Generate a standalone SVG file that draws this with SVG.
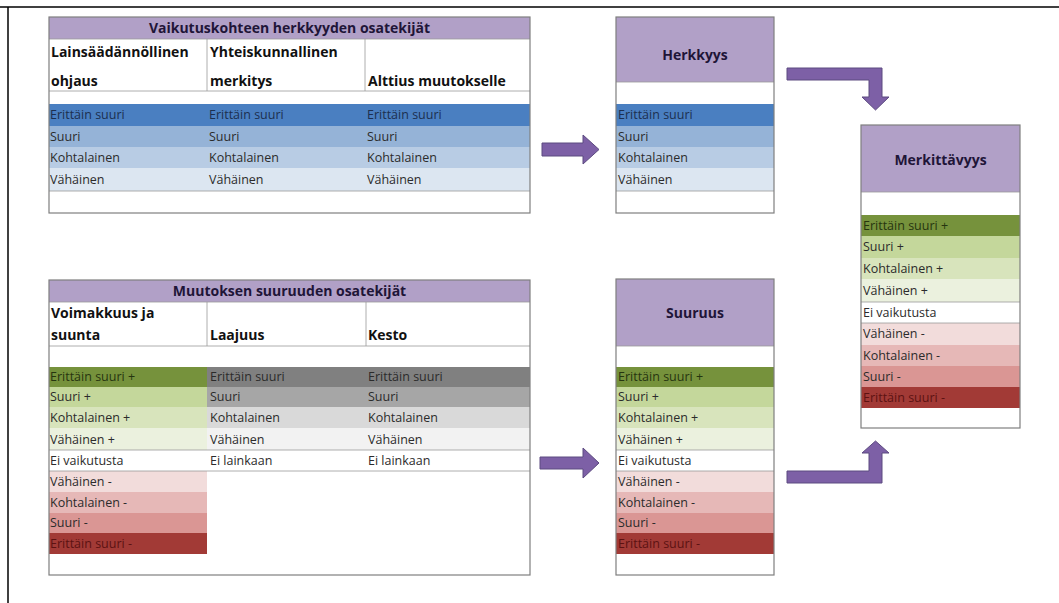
<svg xmlns="http://www.w3.org/2000/svg" width="1059" height="603" viewBox="0 0 1059 603">
<style>
text{font-family:"Open Sans","Liberation Sans",sans-serif;}
.t{font-size:12.5px;fill:#2b2b2b;}
.h{font-size:14px;font-weight:bold;fill:#111;}
.ti{font-size:14px;font-weight:bold;fill:#1f1538;text-anchor:middle;}
.pur{fill:#b1a0c7;}
.box{fill:none;stroke:#7f7f7f;stroke-width:1.2;}
.ln{stroke:#9a9a9a;stroke-width:0.8;}
.b1{fill:#4a7fc1;}.b2{fill:#95b3d7;}.b3{fill:#b8cce4;}.b4{fill:#dce6f1;}
.g1{fill:#76923c;}.g2{fill:#c4d79b;}.g3{fill:#d8e4bc;}.g4{fill:#ebf1de;}
.r1{fill:#f2dcdb;}.r2{fill:#e6b8b7;}.r3{fill:#da9694;}.r4{fill:#a23a36;}
.k1{fill:#808080;}.k2{fill:#a6a6a6;}.k3{fill:#d9d9d9;}.k4{fill:#f2f2f2;}
.dB{fill:#1c2f4f;}.dG{fill:#26350f;}.dR{fill:#5c1212;}
.arr{fill:#7d60a6;stroke:#5c4a80;stroke-width:1;}
</style>
<rect width="1059" height="603" fill="#ffffff"/>
<g id="frame" stroke="#000" stroke-width="1.5" fill="none">
<path d="M0,7 H1059"/>
<path d="M8,7 V603"/>
</g>

<g id="table-herkkyyden-osatekijat">
<rect x="49" y="17" width="481" height="196" fill="#fff"/>
<rect class="pur" x="49" y="17" width="481" height="22"/>
<text class="ti" x="289.5" y="33">Vaikutuskohteen herkkyyden osatekijät</text>
<line class="ln" x1="49" y1="39" x2="530" y2="39"/>
<line class="ln" x1="207" y1="39" x2="207" y2="91"/>
<line class="ln" x1="365" y1="39" x2="365" y2="91"/>
<line class="ln" x1="49" y1="91" x2="530" y2="91"/>
<text class="h" x="51" y="57">Lainsäädännöllinen</text>
<text class="h" x="51" y="86">ohjaus</text>
<text class="h" x="210" y="57">Yhteiskunnallinen</text>
<text class="h" x="210" y="86">merkitys</text>
<text class="h" x="368" y="86">Alttius muutokselle</text>
<rect class="b1" x="49" y="104" width="481" height="22"/>
<rect class="b2" x="49" y="126" width="481" height="21"/>
<rect class="b3" x="49" y="147" width="481" height="21"/>
<rect class="b4" x="49" y="168" width="481" height="23"/>
<line class="ln" x1="49" y1="191" x2="530" y2="191"/>
<text class="t dB" x="50" y="119">Erittäin suuri</text>
<text class="t dB" x="209" y="119">Erittäin suuri</text>
<text class="t dB" x="367" y="119">Erittäin suuri</text>
<text class="t" x="50" y="141">Suuri</text>
<text class="t" x="209" y="141">Suuri</text>
<text class="t" x="367" y="141">Suuri</text>
<text class="t" x="50" y="162">Kohtalainen</text>
<text class="t" x="209" y="162">Kohtalainen</text>
<text class="t" x="367" y="162">Kohtalainen</text>
<text class="t" x="50" y="184">Vähäinen</text>
<text class="t" x="209" y="184">Vähäinen</text>
<text class="t" x="367" y="184">Vähäinen</text>
<rect class="box" x="49" y="17" width="481" height="196"/>
</g>

<g id="table-suuruuden-osatekijat">
<rect x="49" y="280" width="481" height="295" fill="#fff"/>
<rect class="pur" x="49" y="280" width="481" height="22"/>
<text class="ti" x="289.5" y="296">Muutoksen suuruuden osatekijät</text>
<line class="ln" x1="49" y1="302" x2="530" y2="302"/>
<line class="ln" x1="207" y1="302" x2="207" y2="346"/>
<line class="ln" x1="366" y1="302" x2="366" y2="346"/>
<line class="ln" x1="49" y1="346" x2="530" y2="346"/>
<text class="h" x="51" y="318">Voimakkuus ja</text>
<text class="h" x="51" y="340">suunta</text>
<text class="h" x="210" y="340">Laajuus</text>
<text class="h" x="368" y="340">Kesto</text>
<rect class="g1" x="49" y="367" width="158" height="20"/>
<rect class="g2" x="49" y="387" width="158" height="20"/>
<rect class="g3" x="49" y="407" width="158" height="21"/>
<rect class="g4" x="49" y="428" width="158" height="22"/>
<rect class="r1" x="49" y="471" width="158" height="21"/>
<rect class="r2" x="49" y="492" width="158" height="21"/>
<rect class="r3" x="49" y="513" width="158" height="20"/>
<rect class="r4" x="49" y="533" width="158" height="21"/>
<rect class="k1" x="207" y="367" width="323" height="20"/>
<rect class="k2" x="207" y="387" width="323" height="20"/>
<rect class="k3" x="207" y="407" width="323" height="21"/>
<rect class="k4" x="207" y="428" width="323" height="22"/>
<line class="ln" x1="49" y1="450" x2="530" y2="450"/>
<line class="ln" x1="49" y1="471" x2="530" y2="471"/>
<text class="t dG" x="50" y="381">Erittäin suuri +</text>
<text class="t" x="50" y="401">Suuri +</text>
<text class="t" x="50" y="422">Kohtalainen +</text>
<text class="t" x="50" y="444">Vähäinen +</text>
<text class="t" x="50" y="465">Ei vaikutusta</text>
<text class="t" x="50" y="486">Vähäinen -</text>
<text class="t" x="50" y="507">Kohtalainen -</text>
<text class="t" x="50" y="527">Suuri -</text>
<text class="t dR" x="50" y="548">Erittäin suuri -</text>
<text class="t" x="210" y="381">Erittäin suuri</text>
<text class="t" x="210" y="401">Suuri</text>
<text class="t" x="210" y="422">Kohtalainen</text>
<text class="t" x="210" y="444">Vähäinen</text>
<text class="t" x="210" y="465">Ei lainkaan</text>
<text class="t" x="368" y="381">Erittäin suuri</text>
<text class="t" x="368" y="401">Suuri</text>
<text class="t" x="368" y="422">Kohtalainen</text>
<text class="t" x="368" y="444">Vähäinen</text>
<text class="t" x="368" y="465">Ei lainkaan</text>
<rect class="box" x="49" y="280" width="481" height="295"/>
</g>

<g id="table-herkkyys">
<rect x="616" y="17" width="158" height="196" fill="#fff"/>
<rect class="pur" x="616" y="17" width="158" height="65"/>
<text class="ti" x="695" y="60">Herkkyys</text>
<line class="ln" x1="616" y1="82" x2="774" y2="82"/>
<rect class="b1" x="616" y="104" width="158" height="22"/>
<rect class="b2" x="616" y="126" width="158" height="21"/>
<rect class="b3" x="616" y="147" width="158" height="21"/>
<rect class="b4" x="616" y="168" width="158" height="23"/>
<line class="ln" x1="616" y1="191" x2="774" y2="191"/>
<text class="t dB" x="618" y="119">Erittäin suuri</text>
<text class="t" x="618" y="141">Suuri</text>
<text class="t" x="618" y="162">Kohtalainen</text>
<text class="t" x="618" y="184">Vähäinen</text>
<rect class="box" x="616" y="17" width="158" height="196"/>
</g>

<g id="table-suuruus">
<rect x="616" y="279" width="158" height="296" fill="#fff"/>
<rect class="pur" x="616" y="279" width="158" height="67"/>
<text class="ti" x="695" y="318">Suuruus</text>
<line class="ln" x1="616" y1="346" x2="774" y2="346"/>
<rect class="g1" x="616" y="367" width="158" height="20"/>
<rect class="g2" x="616" y="387" width="158" height="20"/>
<rect class="g3" x="616" y="407" width="158" height="21"/>
<rect class="g4" x="616" y="428" width="158" height="22"/>
<rect class="r1" x="616" y="471" width="158" height="21"/>
<rect class="r2" x="616" y="492" width="158" height="21"/>
<rect class="r3" x="616" y="513" width="158" height="20"/>
<rect class="r4" x="616" y="533" width="158" height="21"/>
<line class="ln" x1="616" y1="450" x2="774" y2="450"/>
<line class="ln" x1="616" y1="471" x2="774" y2="471"/>
<text class="t dG" x="618" y="381">Erittäin suuri +</text>
<text class="t" x="618" y="401">Suuri +</text>
<text class="t" x="618" y="422">Kohtalainen +</text>
<text class="t" x="618" y="444">Vähäinen +</text>
<text class="t" x="618" y="465">Ei vaikutusta</text>
<text class="t" x="618" y="486">Vähäinen -</text>
<text class="t" x="618" y="507">Kohtalainen -</text>
<text class="t" x="618" y="527">Suuri -</text>
<text class="t dR" x="618" y="548">Erittäin suuri -</text>
<rect class="box" x="616" y="279" width="158" height="296"/>
</g>

<g id="table-merkittavyys">
<rect x="861" y="125" width="159" height="303" fill="#fff"/>
<rect class="pur" x="861" y="125" width="159" height="67"/>
<text class="ti" x="940.5" y="165">Merkittävyys</text>
<line class="ln" x1="861" y1="192" x2="1020" y2="192"/>
<rect class="g1" x="861" y="215" width="159" height="21"/>
<rect class="g2" x="861" y="236" width="159" height="22"/>
<rect class="g3" x="861" y="258" width="159" height="21"/>
<rect class="g4" x="861" y="279" width="159" height="23"/>
<rect class="r1" x="861" y="323" width="159" height="22"/>
<rect class="r2" x="861" y="345" width="159" height="21"/>
<rect class="r3" x="861" y="366" width="159" height="21"/>
<rect class="r4" x="861" y="387" width="159" height="21"/>
<line class="ln" x1="861" y1="302" x2="1020" y2="302"/>
<line class="ln" x1="861" y1="323" x2="1020" y2="323"/>
<text class="t dG" x="863" y="230">Erittäin suuri +</text>
<text class="t" x="863" y="251">Suuri +</text>
<text class="t" x="863" y="273">Kohtalainen +</text>
<text class="t" x="863" y="295">Vähäinen +</text>
<text class="t" x="863" y="317">Ei vaikutusta</text>
<text class="t" x="863" y="338">Vähäinen -</text>
<text class="t" x="863" y="360">Kohtalainen -</text>
<text class="t" x="863" y="381">Suuri -</text>
<text class="t dR" x="863" y="402">Erittäin suuri -</text>
<rect class="box" x="861" y="125" width="159" height="303"/>
</g>

<g id="connectors">
<path class="arr" d="M542,143 H583 V135 L599,149.5 L583,164 V156 H542 Z"/>
<path class="arr" d="M540,457 H583 V448 L599,463 L583,478 V469 H540 Z"/>
<path class="arr" d="M787,68 H882 V97 H889 L875.5,110 L862,97 H869 V80 H787 Z"/>
<path class="arr" d="M787,483 H882 V453 H889 L875.5,441 L862,453 H869 V471 H787 Z"/>
</g>
</svg>
